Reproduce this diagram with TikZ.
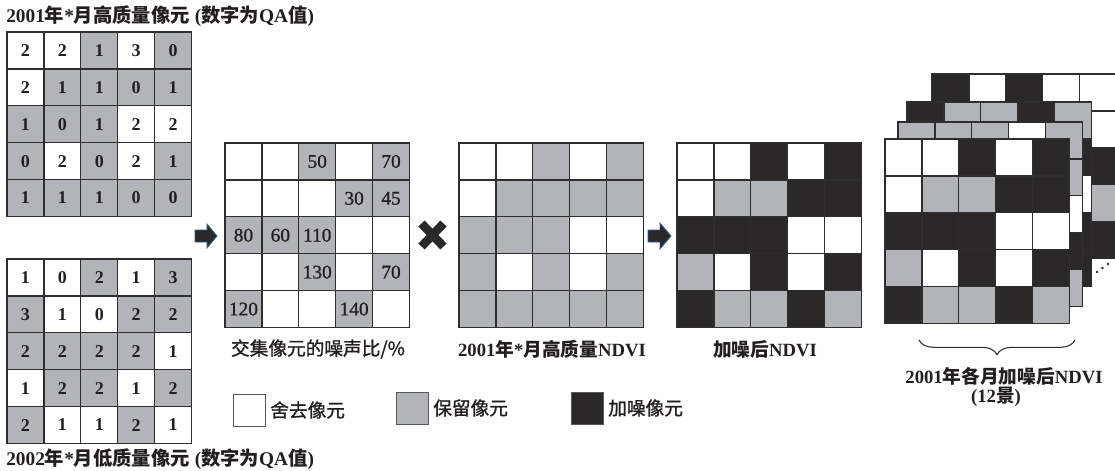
\documentclass[tikz,border=0pt]{standalone}
\usepackage{fontspec}
\setmainfont{Liberation Serif}
\newfontfamily\cjk{Noto Sans CJK SC}
\newfontfamily\cjkm[FakeBold=1.2]{Noto Sans CJK SC}
\newfontfamily\numfont[FakeBold=1]{Liberation Serif}
\usetikzlibrary{decorations.pathreplacing}
\definecolor{cg}{HTML}{B3B4B7}
\definecolor{ck}{HTML}{2A2829}
\definecolor{cw}{HTML}{FFFFFF}
\definecolor{linec}{HTML}{2E2E2E}
\definecolor{txt}{HTML}{231F20}
\definecolor{arrowedge}{HTML}{3C5A8A}
\newcommand{\zh}[1]{{\cjk #1}}
\newcommand{\zhm}[1]{{\cjkm #1}}
\newcommand{\mygrid}[5]{%
  \foreach [count=\i from 0] \c/\t in {#5} {
    \pgfmathtruncatemacro\rr{div(\i,5)}
    \pgfmathtruncatemacro\kk{mod(\i,5)}
    \node[cell, fill=\c, font=#4] (#1-\rr-\kk) at ({#2+\kk*36.9},{#3+\rr*36.9}) {\t};
  }}
\tikzset{
  cell/.style={draw=linec, line width=0.9pt, minimum size=27.675pt, inner sep=0pt, outer sep=0pt, anchor=north west, text=txt},
  lab/.style={text=txt, inner sep=0pt, font=\fontsize{14}{16}\selectfont},
  ttl/.style={text=txt, inner sep=0pt, font=\fontsize{14.5}{17}\selectfont},
  legbox/.style={draw=linec!80, line width=0.9pt, minimum size=24pt, inner sep=0pt, anchor=north west},
  blockarrow/.style={fill=ck, draw=arrowedge, line width=0.6pt, line join=miter},
}
\begin{document}
\begin{tikzpicture}[x=0.75pt,y=-0.75pt]
\useasboundingbox (0,0) rectangle (1115,471);
\clip (0,0) rectangle (1115,471);
\fill[white] (0,0) rectangle (1115,471);

% top-left grid (2001 high quality QA)
\mygrid{A}{7}{32}{\bfseries\fontsize{13.5}{15}\selectfont}{cw/2,cw/2,cg/1,cw/3,cg/0,
 cw/2,cg/1,cg/1,cg/0,cg/1,
 cg/1,cg/0,cg/1,cw/2,cw/2,
 cg/0,cw/2,cg/0,cw/2,cg/1,
 cg/1,cg/1,cg/1,cg/0,cg/0}
% bottom-left grid (2002 low quality QA)
\mygrid{B}{7}{259}{\bfseries\fontsize{13.5}{15}\selectfont}{cw/1,cw/0,cg/2,cw/1,cg/3,
 cg/3,cw/1,cw/0,cg/2,cg/2,
 cg/2,cg/2,cg/2,cg/2,cw/1,
 cw/1,cg/2,cg/2,cw/1,cg/2,
 cg/2,cw/1,cw/1,cg/2,cw/1}
% noise ratio grid
\mygrid{C}{225}{143}{\numfont\fontsize{14.5}{16}\selectfont}{cw/{},cw/{},cg/50,cw/{},cg/70,
 cw/{},cw/{},cw/{},cg/30,cg/45,
 cg/80,cg/60,cg/110,cw/{},cw/{},
 cw/{},cw/{},cg/130,cw/{},cg/70,
 cg/120,cw/{},cw/{},cg/140,cw/{}}
% NDVI grid
\mygrid{D}{459}{143}{}{cw/{},cw/{},cg/{},cw/{},cg/{},
 cw/{},cg/{},cg/{},cg/{},cg/{},
 cg/{},cg/{},cg/{},cw/{},cw/{},
 cg/{},cw/{},cg/{},cw/{},cg/{},
 cg/{},cg/{},cg/{},cg/{},cg/{}}
% noised NDVI grid
\mygrid{E}{677}{143}{}{cw/{},cw/{},ck/{},cw/{},ck/{},
 cw/{},cg/{},cg/{},ck/{},ck/{},
 ck/{},ck/{},ck/{},cw/{},cw/{},
 cg/{},cw/{},ck/{},cw/{},ck/{},
 ck/{},cg/{},cg/{},ck/{},cg/{}}
% stack layers (back to front)
\mygrid{L1}{932}{74}{}{ck/{},cw/{},ck/{},cw/{},cw/{},
 cw/{},cw/{},cw/{},cw/{},cw/{},
 cw/{},cw/{},cw/{},cw/{},ck/{},
 cw/{},cw/{},cw/{},cw/{},cg/{},
 cw/{},cw/{},cw/{},cw/{},ck/{}}
\mygrid{L2}{907}{102}{}{ck/{},cg/{},cg/{},ck/{},cg/{},
 cw/{},cw/{},cw/{},cw/{},ck/{},
 cw/{},cw/{},cw/{},cw/{},cw/{},
 cw/{},cw/{},cw/{},cw/{},ck/{},
 cw/{},cw/{},cw/{},cw/{},ck/{}}
\mygrid{L3}{898}{122}{}{cg/{},cg/{},cg/{},cw/{},cg/{},
 cw/{},cw/{},cw/{},cw/{},cg/{},
 cw/{},cw/{},cw/{},cw/{},cw/{},
 cw/{},cw/{},cw/{},cw/{},ck/{},
 cw/{},cw/{},cw/{},cw/{},cg/{}}
\mygrid{F}{885}{139}{}{cw/{},cw/{},ck/{},cw/{},ck/{},
 cw/{},cg/{},cg/{},ck/{},ck/{},
 ck/{},ck/{},ck/{},cw/{},cw/{},
 cg/{},cw/{},ck/{},cw/{},ck/{},
 ck/{},cg/{},cg/{},ck/{},cg/{}}

% dots
\fill[ck] (1097,272) circle (1.4);
\fill[ck] (1102.5,268) circle (1.4);
\fill[ck] (1108,264) circle (1.4);

% block arrows and multiply sign
\draw[blockarrow] (195,230) -- (207,230) -- (207,224) -- (217,236) -- (207,248) -- (207,242) -- (195,242) -- cycle;
\draw[blockarrow] (648,230) -- (660,230) -- (660,223) -- (671,236) -- (660,249) -- (660,242) -- (648,242) -- cycle;
\draw[ck, line width=6.5pt] (421.5,223.5) -- (443.5,246.5);
\draw[ck, line width=6.5pt] (443.5,223.5) -- (421.5,246.5);

% brace
\draw[linec, line width=0.8pt, decorate, decoration={brace, amplitude=11pt}] (1075,340) -- (919,340);

% labels
\node[ttl, anchor=west] (tA) at (6,16) {\bfseries 2001\zh{年}*\zh{月高质量像元} (\zh{数字为}QA\zh{值})};
\node[ttl, anchor=west] (tB) at (6,459) {\bfseries 2002\zh{年}*\zh{月低质量像元} (\zh{数字为}QA\zh{值})};
\node[lab] (tC) at (318,349) {\zhm{交集像元的噪声比/\%}};
\node[lab] (tD) at (552,349) {\bfseries 2001\zh{年}*\zh{月高质量}NDVI};
\node[lab] (tE) at (765,349) {\bfseries \zh{加噪后}NDVI};
\node[lab] (tF) at (1004,376) {\bfseries 2001\zh{年各月加噪后}NDVI};
\node[lab] (tG) at (996,397) {\bfseries (12\zh{景})};

% legend
\node[legbox, fill=cw] (lw) at (233,394) {};
\node[lab, anchor=west] (lwt) at (270,410) {\zhm{舍去像元}};
\node[legbox, fill=cg] (lg) at (396,392) {};
\node[lab, anchor=west] (lgt) at (433,408) {\zhm{保留像元}};
\node[legbox, fill=ck] (lk) at (571,392) {};
\node[lab, anchor=west] (lkt) at (608,408) {\zhm{加噪像元}};
\end{tikzpicture}
\end{document}
